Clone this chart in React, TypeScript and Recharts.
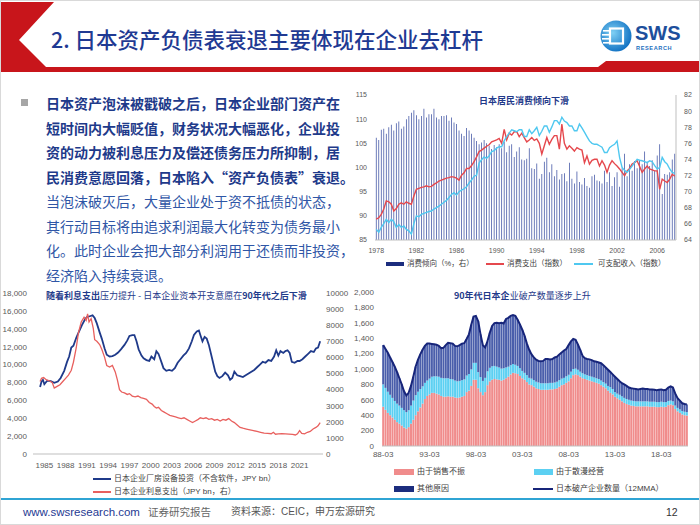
import React from "react";
import { Bar, ComposedChart, Line, LineChart, XAxis, YAxis } from "recharts";

const LATIN = "'Liberation Sans', 'Noto Sans CJK SC', sans-serif";
const CJK = "'Noto Sans CJK SC', 'Liberation Sans', sans-serif";
const NAVY = "#1F3A8A";
const TICK = "#595959";

// ---- 日本居民消费倾向下滑 (quarterly, 1978Q1 - 2007Q4) ----
const propensity = [
  76.7, 76.4, 77.7, 77.8, 77.2, 78.0, 78.3, 77.6, 78.5, 78.7, 77.8, 78.1,
  79.0, 79.4, 79.8, 80.1, 79.5, 79.0, 79.4, 80.3, 79.2, 79.6, 79.6, 80.3,
  79.2, 79.0, 79.4, 79.4, 79.5, 78.8, 79.2, 78.6, 78.4, 77.6, 77.2, 76.9,
  77.9, 77.6, 77.2, 76.7, 76.3, 75.9, 76.1, 76.4, 76.0, 75.7, 75.3, 75.8,
  75.5, 75.9, 75.4, 76.2, 74.9, 75.7, 75.9, 74.3, 75.0, 75.5, 74.0, 73.9,
  74.1, 75.4, 72.9, 72.8, 73.5, 71.6, 72.2, 73.7, 74.2, 72.4, 73.4, 71.9,
  72.7, 71.5, 72.2, 72.3, 71.3, 73.6, 71.6, 71.0, 72.5, 71.2, 70.9, 71.7,
  70.7, 70.5, 71.9, 72.1, 71.4, 71.3, 71.0, 72.6, 71.2, 72.4, 70.7, 71.8,
  72.4, 70.6, 72.9, 74.7, 71.9, 73.4, 72.6, 73.8, 72.9, 73.9, 73.4, 75.0,
  73.7, 73.2, 73.9, 72.6, 74.5, 75.9, 69.7, 72.2, 72.1, 72.4, 74.0, 74.7,
];
const spending = [
  89.3, 89.6, 90.3, 91.4, 93.1, 92.9, 92.4, 91.0, 91.5, 92.4, 92.7, 92.4,
  92.9, 92.6, 92.4, 94.1, 95.5, 95.7, 95.9, 96.0, 96.2, 96.0, 96.1, 96.5,
  96.8, 97.2, 97.4, 97.6, 97.8, 97.9, 98.1, 98.0, 97.8, 97.4, 98.4, 98.9,
  99.8, 99.8, 100.4, 101.2, 102.2, 103.3, 103.6, 104.0, 104.4, 104.7, 105.3, 105.5,
  105.7, 106.0, 105.0, 107.9, 105.7, 107.1, 106.7, 107.4, 107.4, 106.4, 107.1, 106.2,
  105.3, 105.7, 106.2, 105.6, 105.9, 105.0, 102.8, 104.5, 106.2, 104.8, 105.8, 106.6,
  106.6, 103.8, 109.0, 105.0, 103.8, 104.5, 104.0, 103.4, 104.1, 103.8, 103.6, 101.0,
  102.4, 100.7, 101.5, 101.7, 101.7, 100.3, 101.4, 100.5, 99.0, 100.5, 101.4, 100.8,
  100.3, 99.7, 99.0, 98.3, 99.3, 99.8, 100.7, 101.0, 101.4, 100.2, 99.0, 99.7,
  100.3, 99.7, 99.5, 99.3, 99.3, 95.5, 97.6, 97.2, 96.9, 97.6, 98.6, 98.2,
];
const income = [
  87.2, 86.6, 87.6, 88.4, 89.3, 88.6, 89.3, 88.8, 87.6, 88.2, 87.6, 87.9,
  87.2, 86.9, 86.2, 88.4, 90.0, 89.8, 90.3, 90.5, 90.7, 90.9, 91.0, 91.4,
  91.7, 92.0, 92.4, 92.8, 93.2, 93.8, 94.4, 94.8, 94.3, 95.0, 95.3, 95.6,
  96.0, 96.8, 97.4, 98.2, 98.4, 100.9, 101.6, 102.2, 101.9, 102.4, 103.3, 103.5,
  104.0, 104.3, 104.3, 105.5, 106.4, 107.1, 107.8, 107.6, 107.4, 107.8, 107.8, 106.4,
  106.4, 107.8, 107.0, 107.6, 108.3, 106.6, 107.5, 108.6, 108.6, 107.3, 108.4, 109.7,
  109.7, 109.0, 110.4, 109.6, 109.3, 108.6, 108.6, 107.6, 107.6, 109.0, 108.2, 107.3,
  106.4, 105.5, 105.0, 104.8, 104.8, 104.5, 104.2, 103.1, 103.1, 104.1, 104.5, 104.8,
  105.5, 102.1, 100.0, 99.4, 99.0, 99.6, 100.3, 101.0, 101.7, 101.5, 101.4, 101.2,
  101.0, 101.4, 101.2, 100.4, 99.7, 100.0, 102.1, 101.2, 100.7, 99.7, 99.0, 98.8,
];
const consumeQuarters = propensity.map(
  (_, i) => `${1978 + Math.floor(i / 4)}Q${(i % 4) + 1}`
);
const consumeTable = consumeQuarters.map((q, i) => ({
  q,
  p: propensity[i],
  s: spending[i],
  inc: income[i],
}));

// ---- 日本企业资本开支 vs 利息支出 ----
const capexYears = [
  1984.4, 1984.6, 1984.8, 1985.0, 1985.4, 1985.9, 1986.4, 1986.9, 1987.3, 1987.8,
  1988.2, 1988.5, 1988.8, 1989.1, 1989.5, 1989.9, 1990.3, 1990.7, 1991.0, 1991.4,
  1991.8, 1992.1, 1992.4, 1992.8, 1993.1, 1993.5, 1993.8, 1994.2, 1994.6, 1995.0,
  1995.4, 1995.8, 1996.3, 1996.7, 1997.0, 1997.4, 1997.7, 1998.0, 1998.3, 1998.7,
  1999.0, 1999.4, 1999.8, 2000.1, 2000.5, 2000.8, 2001.1, 2001.5, 2001.8, 2002.2,
  2002.6, 2003.0, 2003.4, 2003.8, 2004.2, 2004.6, 2005.0, 2005.4, 2005.8, 2006.1,
  2006.5, 2006.8, 2007.0, 2007.3, 2007.6, 2007.9, 2008.2, 2008.5, 2008.8, 2009.1,
  2009.4, 2009.7, 2010.1, 2010.5, 2010.9, 2011.2, 2011.5, 2011.8, 2012.2, 2012.6,
  2013.0, 2013.4, 2013.8, 2014.2, 2014.6, 2015.0, 2015.4, 2015.8, 2016.2, 2016.6,
  2017.0, 2017.4, 2017.7, 2018.0, 2018.3, 2018.7, 2019.0, 2019.3, 2019.6, 2019.9,
  2020.3, 2020.7, 2021.0, 2021.4, 2021.8, 2022.2, 2022.6, 2023.0, 2023.3, 2023.6,
  2023.9,
];
const capexValues = [
  7500, 8100, 8300, 7800, 8200, 8150, 7950, 8100, 8500, 9300,
  10300, 10900, 11900, 12100, 13000, 13700, 14400, 15000, 15300, 15400,
  15500, 15200, 14600, 13600, 12900, 11800, 11100, 10900, 10950, 11100,
  11350, 11700, 12200, 12700, 13200, 13300, 13300, 12600, 11700, 11000,
  10700, 10500, 10400, 10900, 10600, 11500, 11200, 10300, 9600, 9300,
  9400, 9300, 9600, 10200, 10600, 11000, 11300, 11800, 12600, 13300,
  13700, 13800, 13300, 12600, 13100, 12900, 12200, 11200, 10200, 9200,
  8700, 8500, 8700, 9100, 8800, 8300, 8500, 9200, 8800, 8700,
  8600, 8800, 9000, 9200, 9400, 9700, 10000, 10300, 10200, 10500,
  10400, 10900, 11600, 11000, 11500, 11300, 11500, 11600, 11300, 10300,
  10200, 10400, 10400, 10600, 10900, 11200, 11500, 11400, 11800, 11900,
  12600,
];
const interestYears = [
  1984.4, 1984.6, 1984.9, 1985.3, 1985.7, 1986.1, 1986.4, 1986.8, 1987.2, 1987.6,
  1988.0, 1988.4, 1988.8, 1989.1, 1989.5, 1989.8, 1990.2, 1990.6, 1990.9, 1991.1,
  1991.3, 1991.6, 1991.9, 1992.1, 1992.4, 1992.8, 1993.1, 1993.5, 1993.8, 1994.2,
  1994.6, 1995.0, 1995.3, 1995.6, 1995.9, 1996.3, 1996.7, 1997.0, 1997.4, 1997.8,
  1998.2, 1998.6, 1999.0, 1999.4, 1999.8, 2000.2, 2000.5, 2000.8, 2001.1, 2001.5,
  2001.9, 2002.3, 2002.7, 2003.1, 2003.5, 2003.9, 2004.3, 2004.7, 2005.1, 2005.5,
  2005.9, 2006.3, 2006.7, 2007.0, 2007.4, 2007.8, 2008.2, 2008.6, 2009.0, 2009.4,
  2009.8, 2010.2, 2010.6, 2011.0, 2011.4, 2011.8, 2012.2, 2012.6, 2013.0, 2013.5,
  2014.0, 2014.5, 2015.0, 2015.5, 2016.0, 2016.5, 2017.0, 2017.3, 2017.6, 2018.0,
  2018.5, 2019.0, 2019.5, 2020.0, 2020.4, 2020.7, 2021.0, 2021.3, 2021.7, 2022.1,
  2022.5, 2022.9, 2023.3, 2023.6, 2023.9,
];
const interestValues = [
  4500, 4700, 4750, 4600, 4550, 4450, 4100, 4200, 4300, 4500,
  4700, 4900, 5200, 5700, 6600, 7500, 8200, 8500, 8300, 8700,
  8200, 8400, 7800, 7100, 7000, 6800, 6500, 6000, 5500, 5400,
  5500, 5100, 4600, 4000, 3850, 3800, 3700, 3750, 3600, 3550,
  3600, 3500, 3450, 3400, 3200, 3100, 2950, 2850, 2900, 2700,
  2600, 2500, 2400, 2350, 2300, 2250, 2200, 2250, 2150, 2050,
  1950, 2050, 2150, 2250, 2200, 2250, 2150, 2200, 2100, 2150,
  2050, 2150, 2100, 2200, 2050, 1950, 1800, 1650, 1600, 1550,
  1500, 1450, 1400, 1350, 1300, 1280, 1260, 1350, 1230, 1250,
  1260, 1250, 1240, 1220, 1180, 1250, 1450, 1280, 1250, 1350,
  1400, 1550, 1650, 1750, 1950,
];
const capexTicksL = [0, 2000, 4000, 6000, 8000, 10000, 12000, 14000, 16000, 18000];
const capexTicksR = [0, 1000, 2000, 3000, 4000, 5000, 6000, 7000, 8000, 9000, 10000];
const capexYearTicks = [1985, 1988, 1991, 1994, 1997, 2000, 2003, 2006, 2009, 2012, 2015, 2018, 2021];
const capexData = capexYears.map((x, i) => ({ x, v: capexValues[i] }));
const interestData = interestYears.map((x, i) => ({ x, v: interestValues[i] }));

// ---- 90年代日本企业破产数量 (quarterly from 88-03) ----
const bankruptTotal = [
  1310, 1260, 1210, 1150, 1090, 1030, 960, 880, 800, 710,
  655, 690, 780, 900, 1030, 1120, 1190, 1250, 1300, 1330,
  1330, 1325, 1320, 1315, 1300, 1270, 1275, 1310, 1340, 1335,
  1330, 1300, 1295, 1310, 1330, 1335, 1390, 1450, 1575, 1680,
  1690, 1620, 1450, 1310, 1280, 1360, 1470, 1560, 1595, 1600,
  1595, 1600, 1590, 1650, 1665, 1690, 1700, 1690, 1640, 1580,
  1510, 1430, 1330, 1250, 1190, 1150, 1120, 1105, 1100, 1105,
  1130, 1130, 1125, 1130, 1150, 1160, 1190, 1215, 1240, 1260,
  1310, 1360, 1390, 1380, 1320, 1250, 1170, 1140, 1130, 1125,
  1115, 1100, 1095, 1085, 1075, 1050, 1020, 990, 960, 930,
  900, 870, 840, 815, 800, 780, 760, 750, 745, 740,
  735, 740, 745, 740, 740, 735, 735, 730, 725, 730,
  735, 725, 730, 760, 775, 760, 680, 620, 590, 555, 545, 540,
];
const salesSlump = [
  510, 470, 430, 400, 370, 340, 310, 290, 265, 240,
  225, 245, 290, 340, 400, 450, 500, 550, 610, 650,
  670, 690, 690, 680, 670, 650, 640, 640, 645, 640,
  640, 630, 625, 630, 640, 650, 700, 720, 780, 860,
  860, 750, 700, 660, 700, 790, 840, 860, 870, 865,
  860, 850, 860, 880, 900, 930, 950, 945, 935, 910,
  880, 860, 830, 800, 790, 770, 750, 740, 730, 730,
  730, 730, 735, 735, 740, 750, 770, 790, 800, 820,
  840, 880, 920, 930, 920, 900, 880, 870, 860, 850,
  840, 830, 820, 810, 790, 770, 750, 720, 690, 670,
  640, 620, 600, 580, 560, 545, 535, 525, 520, 515,
  515, 515, 515, 515, 515, 510, 510, 510, 505, 505,
  510, 505, 510, 530, 540, 530, 480, 450, 430, 410, 400, 395,
];
const mismanaged = [
  290, 285, 275, 265, 255, 245, 240, 235, 230, 225,
  215, 220, 235, 250, 260, 255, 240, 225, 210, 200,
  205, 210, 215, 225, 230, 235, 240, 240, 235, 230,
  225, 220, 215, 215, 215, 215, 215, 215, 215, 220,
  220, 210, 195, 185, 185, 180, 175, 175, 170, 165,
  160, 155, 150, 140, 130, 120, 115, 110, 105, 100,
  95, 90, 90, 85, 85, 85, 85, 85, 85, 85,
  85, 85, 85, 85, 85, 85, 85, 85, 85, 85,
  85, 85, 80, 75, 70, 65, 65, 60, 60, 60,
  60, 60, 60, 60, 60, 60, 60, 60, 75, 70,
  60, 60, 65, 65, 65, 65, 65, 65, 65, 65,
  65, 65, 65, 65, 65, 65, 65, 65, 65, 65,
  65, 65, 60, 55, 50, 50, 45, 45, 45, 45, 45, 45,
];
const bankruptLabels = bankruptTotal.map((_, i) => {
  const y = (1988 + Math.floor(i / 4)) % 100;
  const m = [3, 6, 9, 12][i % 4];
  return `${String(y).padStart(2, "0")}-${String(m).padStart(2, "0")}`;
});
const bankruptTicks = [0, 200, 400, 600, 800, 1000, 1200, 1400, 1600, 1800, 2000];
const bankruptTable = bankruptLabels.map((label, i) => ({
  label,
  sales: salesSlump[i],
  mis: mismanaged[i],
  other: bankruptTotal[i] - salesSlump[i] - mismanaged[i],
  total: bankruptTotal[i],
}));

const boldLines = [
  "日本资产泡沫被戳破之后，日本企业部门资产在",
  "短时间内大幅贬值，财务状况大幅恶化，企业投",
  "资的动力被利息压力及偿还债务压力所抑制，居",
  "民消费意愿回落，日本陷入“资产负债表”衰退。",
];
const plainLines = [
  "当泡沫破灭后，大量企业处于资不抵债的状态，",
  "其行动目标将由追求利润最大化转变为债务最小",
  "化。此时企业会把大部分利润用于还债而非投资，",
  "经济陷入持续衰退。",
];

const abs = (left: number, top: number): React.CSSProperties => ({
  position: "absolute",
  left,
  top,
  whiteSpace: "nowrap",
});

const Header = () => (
  <>
    <svg width={700} height={80} style={{ position: "absolute", left: 0, top: 0 }}>
      <polygon points="0,1 53,1 18,39 45,66 0,66" fill="#C8151B" />
      <polygon points="0,66 597,66 605,60 700,60 700,71 0,71" fill="#C8151B" />
      <defs>
        <radialGradient id="logo" cx="40%" cy="40%" r="65%">
          <stop offset="0%" stopColor="#7FD0F4" />
          <stop offset="100%" stopColor="#0E6FC2" />
        </radialGradient>
      </defs>
      <circle cx={615} cy={35} r={15.5} fill="url(#logo)" />
      <rect x={602} y={29} width={6} height={1.6} fill="#fff" />
      <rect x={601} y={33} width={7} height={1.6} fill="#fff" />
      <rect x={601} y={37} width={7} height={1.6} fill="#fff" />
      <rect x={602} y={41} width={6} height={1.6} fill="#fff" />
      <rect x={609} y={27.5} width={13} height={15} fill="none" stroke="#fff" strokeWidth={2.2} />
      <text x={634} y={38.5} fontFamily={LATIN} fontWeight={700} fontSize={20} fill="#1D4F9C">
        SWS
      </text>
      <text x={635} y={48.5} fontFamily={LATIN} fontWeight={700} fontSize={5.6} fill="#1D6FC0" letterSpacing={0.6}>
        RESEARCH
      </text>
    </svg>
    <div
      style={{
        ...abs(50, 24),
        fontSize: 21.5,
        lineHeight: "28px",
        color: "#1F3A93",
        fontFamily: CJK,
        fontWeight: 500,
      }}
    >
      2. 日本资产负债表衰退主要体现在企业去杠杆
    </div>
  </>
);

const TextBlock = () => (
  <>
    <div style={{ ...abs(20, 98), width: 7, height: 7, background: "#A6A6A6" }} />
    <div style={{ ...abs(45, 90), fontSize: 14, lineHeight: "24.5px", fontFamily: CJK }}>
      {boldLines.map((t) => (
        <div key={t} style={{ fontWeight: 700, color: "#1E3A8A" }}>
          {t}
        </div>
      ))}
      {plainLines.map((t) => (
        <div key={t} style={{ color: "#2F56A6" }}>
          {t}
        </div>
      ))}
    </div>
  </>
);

const legendText: React.CSSProperties = {
  fontSize: 7.5,
  color: "#404040",
  fontFamily: LATIN,
  lineHeight: "10px",
};

const ConsumptionChart = () => (
  <>
    <div style={{ position: "absolute", left: 340, top: 85 }}>
      <ComposedChart
        width={360}
        height={184}
        data={consumeTable}
        margin={{ top: 9, right: 0, bottom: 10, left: 4 }}
        barCategoryGap="35%"
      >
        <XAxis
          dataKey="q"
          interval={15}
          height={20}
          tickLine={false}
          axisLine={{ stroke: "#BFBFBF" }}
          tick={{ fontSize: 7, fill: TICK, fontFamily: LATIN }}
          tickFormatter={(v: string) => v.slice(0, 4)}
        />
        <YAxis
          yAxisId="l"
          width={30}
          domain={[85, 115]}
          ticks={[85, 90, 95, 100, 105, 110, 115]}
          axisLine={false}
          tickLine={false}
          tick={{ fontSize: 7, fill: TICK, fontFamily: LATIN }}
        />
        <YAxis
          yAxisId="r"
          orientation="right"
          width={25}
          domain={[64, 82]}
          ticks={[64, 66, 68, 70, 72, 74, 76, 78, 80, 82]}
          axisLine={{ stroke: "#BFBFBF" }}
          tickLine={false}
          tick={{ fontSize: 7, fill: TICK, fontFamily: LATIN }}
        />
        <Bar yAxisId="r" dataKey="p" fill="#3E52A3" isAnimationActive={false} />
        <Line yAxisId="l" dataKey="s" stroke="#E5484D" strokeWidth={1.4} dot={false} isAnimationActive={false} />
        <Line yAxisId="l" dataKey="inc" stroke="#4FC8F0" strokeWidth={1.4} dot={false} isAnimationActive={false} />
      </ComposedChart>
    </div>
    <div style={{ ...abs(478, 93), fontSize: 9, fontWeight: 700, color: NAVY, fontFamily: CJK }}>
      日本居民消费倾向下滑
    </div>
    <div style={{ ...abs(385, 261), width: 18, height: 4, background: "#1C2D7E" }} />
    <div style={{ ...abs(406, 258), ...legendText }}>消费倾向（%，右）</div>
    <div style={{ ...abs(485, 262), width: 18, height: 1.5, background: "#E5484D" }} />
    <div style={{ ...abs(506, 258), ...legendText }}>消费支出（指数）</div>
    <div style={{ ...abs(573, 262), width: 19, height: 1.5, background: "#4FC8F0" }} />
    <div style={{ ...abs(597, 258), ...legendText }}>可支配收入（指数）</div>
  </>
);

const CapexChart = () => (
  <>
    <div style={{ position: "absolute", left: 0, top: 280 }}>
      <LineChart width={350} height={193} margin={{ top: 12, right: 0, bottom: 0, left: 0 }}>
        <XAxis
          dataKey="x"
          type="number"
          domain={[1983.4, 2024.3]}
          ticks={capexYearTicks}
          allowDataOverflow
          height={20}
          tickLine={false}
          axisLine={{ stroke: "#BFBFBF" }}
          tick={{ fontSize: 8, fill: TICK, fontFamily: LATIN }}
        />
        <YAxis
          yAxisId="l"
          width={32}
          domain={[0, 18000]}
          ticks={capexTicksL}
          axisLine={false}
          tickLine={false}
          tickSize={4}
          tick={{ fontSize: 8, fill: TICK, fontFamily: LATIN }}
          tickFormatter={(v: number) => v.toLocaleString("en-US")}
        />
        <YAxis
          yAxisId="r"
          orientation="right"
          width={28}
          domain={[0, 10000]}
          ticks={capexTicksR}
          axisLine={false}
          tickLine={false}
          tickSize={1}
          tick={{ fontSize: 8, fill: TICK, fontFamily: LATIN }}
        />
        <Line yAxisId="l" data={capexData} dataKey="v" stroke="#1F3A8A" strokeWidth={1.8} dot={false} isAnimationActive={false} />
        <Line yAxisId="r" data={interestData} dataKey="v" stroke="#E8605E" strokeWidth={1.3} dot={false} isAnimationActive={false} />
      </LineChart>
    </div>
    <div style={{ ...abs(45, 289), fontSize: 9, color: NAVY, fontFamily: CJK, lineHeight: "12px" }}>
      <b>随着利息支出</b>压力提升 - 日本企业资本开支意愿在<b>90年代之后下滑</b>
    </div>
    <div style={{ ...abs(92, 477), width: 18, height: 2, background: "#1F3A8A" }} />
    <div style={{ ...abs(113, 473), ...legendText, fontSize: 8 }}>日本企业厂房设备投资（不含软件，JPY bn）</div>
    <div style={{ ...abs(92, 490), width: 18, height: 2, background: "#E8605E" }} />
    <div style={{ ...abs(113, 486), ...legendText, fontSize: 8 }}>日本企业利息支出（JPY bn，右）</div>
  </>
);

const BankruptcyChart = () => (
  <>
    <div style={{ position: "absolute", left: 350, top: 280 }}>
      <ComposedChart
        width={350}
        height={181}
        data={bankruptTable}
        margin={{ top: 11, right: 13, bottom: 0, left: 0 }}
        barCategoryGap="8%"
      >
        <XAxis
          dataKey="label"
          interval={19}
          height={16}
          tickLine={false}
          tickSize={3}
          axisLine={{ stroke: "#BFBFBF" }}
          tick={{ fontSize: 8, fill: TICK, fontFamily: LATIN }}
        />
        <YAxis
          width={31}
          domain={[0, 2000]}
          ticks={bankruptTicks}
          axisLine={false}
          tickLine={false}
          tick={{ fontSize: 8, fill: TICK, fontFamily: LATIN }}
          tickFormatter={(v: number) => v.toLocaleString("en-US")}
        />
        <Bar dataKey="sales" stackId="a" fill="#F08C8C" isAnimationActive={false} />
        <Bar dataKey="mis" stackId="a" fill="#5CD0F2" isAnimationActive={false} />
        <Bar dataKey="other" stackId="a" fill="#4A5EAB" isAnimationActive={false} />
        <Line dataKey="total" stroke="#17257A" strokeWidth={2} dot={false} isAnimationActive={false} />
      </ComposedChart>
    </div>
    <div style={{ ...abs(453, 289), fontSize: 9, color: NAVY, fontFamily: CJK, lineHeight: "12px" }}>
      <b>90年代日本企</b>业破产数量逐步上升
    </div>
    <div style={{ ...abs(393, 468), width: 20, height: 6, background: "#F08C8C" }} />
    <div style={{ ...abs(416, 466), ...legendText, fontSize: 8 }}>由于销售不振</div>
    <div style={{ ...abs(533, 468), width: 19, height: 6, background: "#5CD0F2" }} />
    <div style={{ ...abs(555, 466), ...legendText, fontSize: 8 }}>由于散漫经营</div>
    <div style={{ ...abs(393, 485), width: 20, height: 6, background: "#1C2D7E" }} />
    <div style={{ ...abs(416, 483), ...legendText, fontSize: 8 }}>其他原因</div>
    <div style={{ ...abs(532, 487), width: 20, height: 2, background: "#17257A" }} />
    <div style={{ ...abs(555, 483), ...legendText, fontSize: 8 }}>日本破产企业数量（12MMA）</div>
  </>
);

const Footer = () => (
  <>
    <div style={{ ...abs(0, 497), width: 700, height: 2, background: "#2FA4D4" }} />
    <div style={{ ...abs(22, 504), fontSize: 11.5, lineHeight: "14px", color: "#1F3A93", fontFamily: LATIN }}>
      www.swsresearch.com
    </div>
    <div style={{ ...abs(147, 504), fontSize: 10.5, lineHeight: "14px", color: "#666", fontFamily: CJK }}>
      证券研究报告
    </div>
    <div style={{ ...abs(230, 504), fontSize: 10, lineHeight: "14px", color: "#555", fontFamily: LATIN }}>
      资料来源：CEIC，申万宏源研究
    </div>
    <div style={{ ...abs(665, 504), fontSize: 10.5, lineHeight: "14px", color: "#333", fontFamily: LATIN }}>
      12
    </div>
  </>
);

export default function App() {
  return (
    <div
      style={{
        position: "absolute",
        left: 0,
        top: 0,
        width: 700,
        height: 525,
        background: "#fff",
        overflow: "hidden",
        boxSizing: "border-box",
        border: "1px solid #D9D9D9",
        fontFamily: CJK,
      }}
    >
      <Header />
      <TextBlock />
      <ConsumptionChart />
      <CapexChart />
      <BankruptcyChart />
      <Footer />
    </div>
  );
}
